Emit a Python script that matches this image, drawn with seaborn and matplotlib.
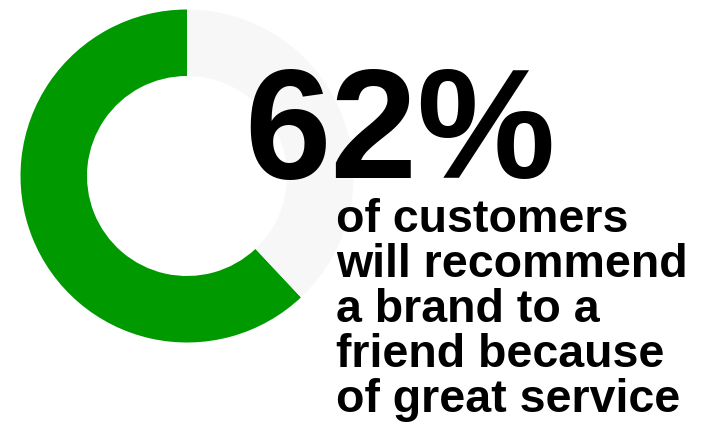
import matplotlib
matplotlib.use("Agg")
import matplotlib.pyplot as plt
import seaborn as sns

# share of customers (percent) and remainder
labels = ["recommend", "other"]
shares = [62, 38]
colors = ["#009900", "#f7f7f7"]
headline = "62%"
caption_lines = ["of customers", "will recommend", "a brand to a",
                 "friend because", "of great service"]

sns.set_theme(style="white")
plt.rcParams['font.family'] = ['Liberation Sans', 'DejaVu Sans']

W, H = 705, 425
fig = plt.figure(figsize=(W / 100, H / 100), dpi=100)
ax = fig.add_axes([0, 0, 1, 1])
ax.set_xlim(0, W)
ax.set_ylim(0, H)
ax.set_aspect('equal')
ax.axis('off')

ax.pie(shares, colors=colors, startangle=90, counterclock=True,
       center=(187, H - 176), radius=166.5,
       wedgeprops=dict(width=66.5, linewidth=0))

ax.text(244, H - 178, headline, fontsize=112, fontweight='bold',
        ha='left', va='baseline', color='black')

for i, line in enumerate(caption_lines):
    ax.text(336, H - (232 + 45 * i), line, fontsize=33.5, fontweight='bold',
            ha='left', va='baseline', color='black')

ax.set_xlim(0, W)
ax.set_ylim(0, H)
fig.savefig("out.png", dpi=100, facecolor='white')
